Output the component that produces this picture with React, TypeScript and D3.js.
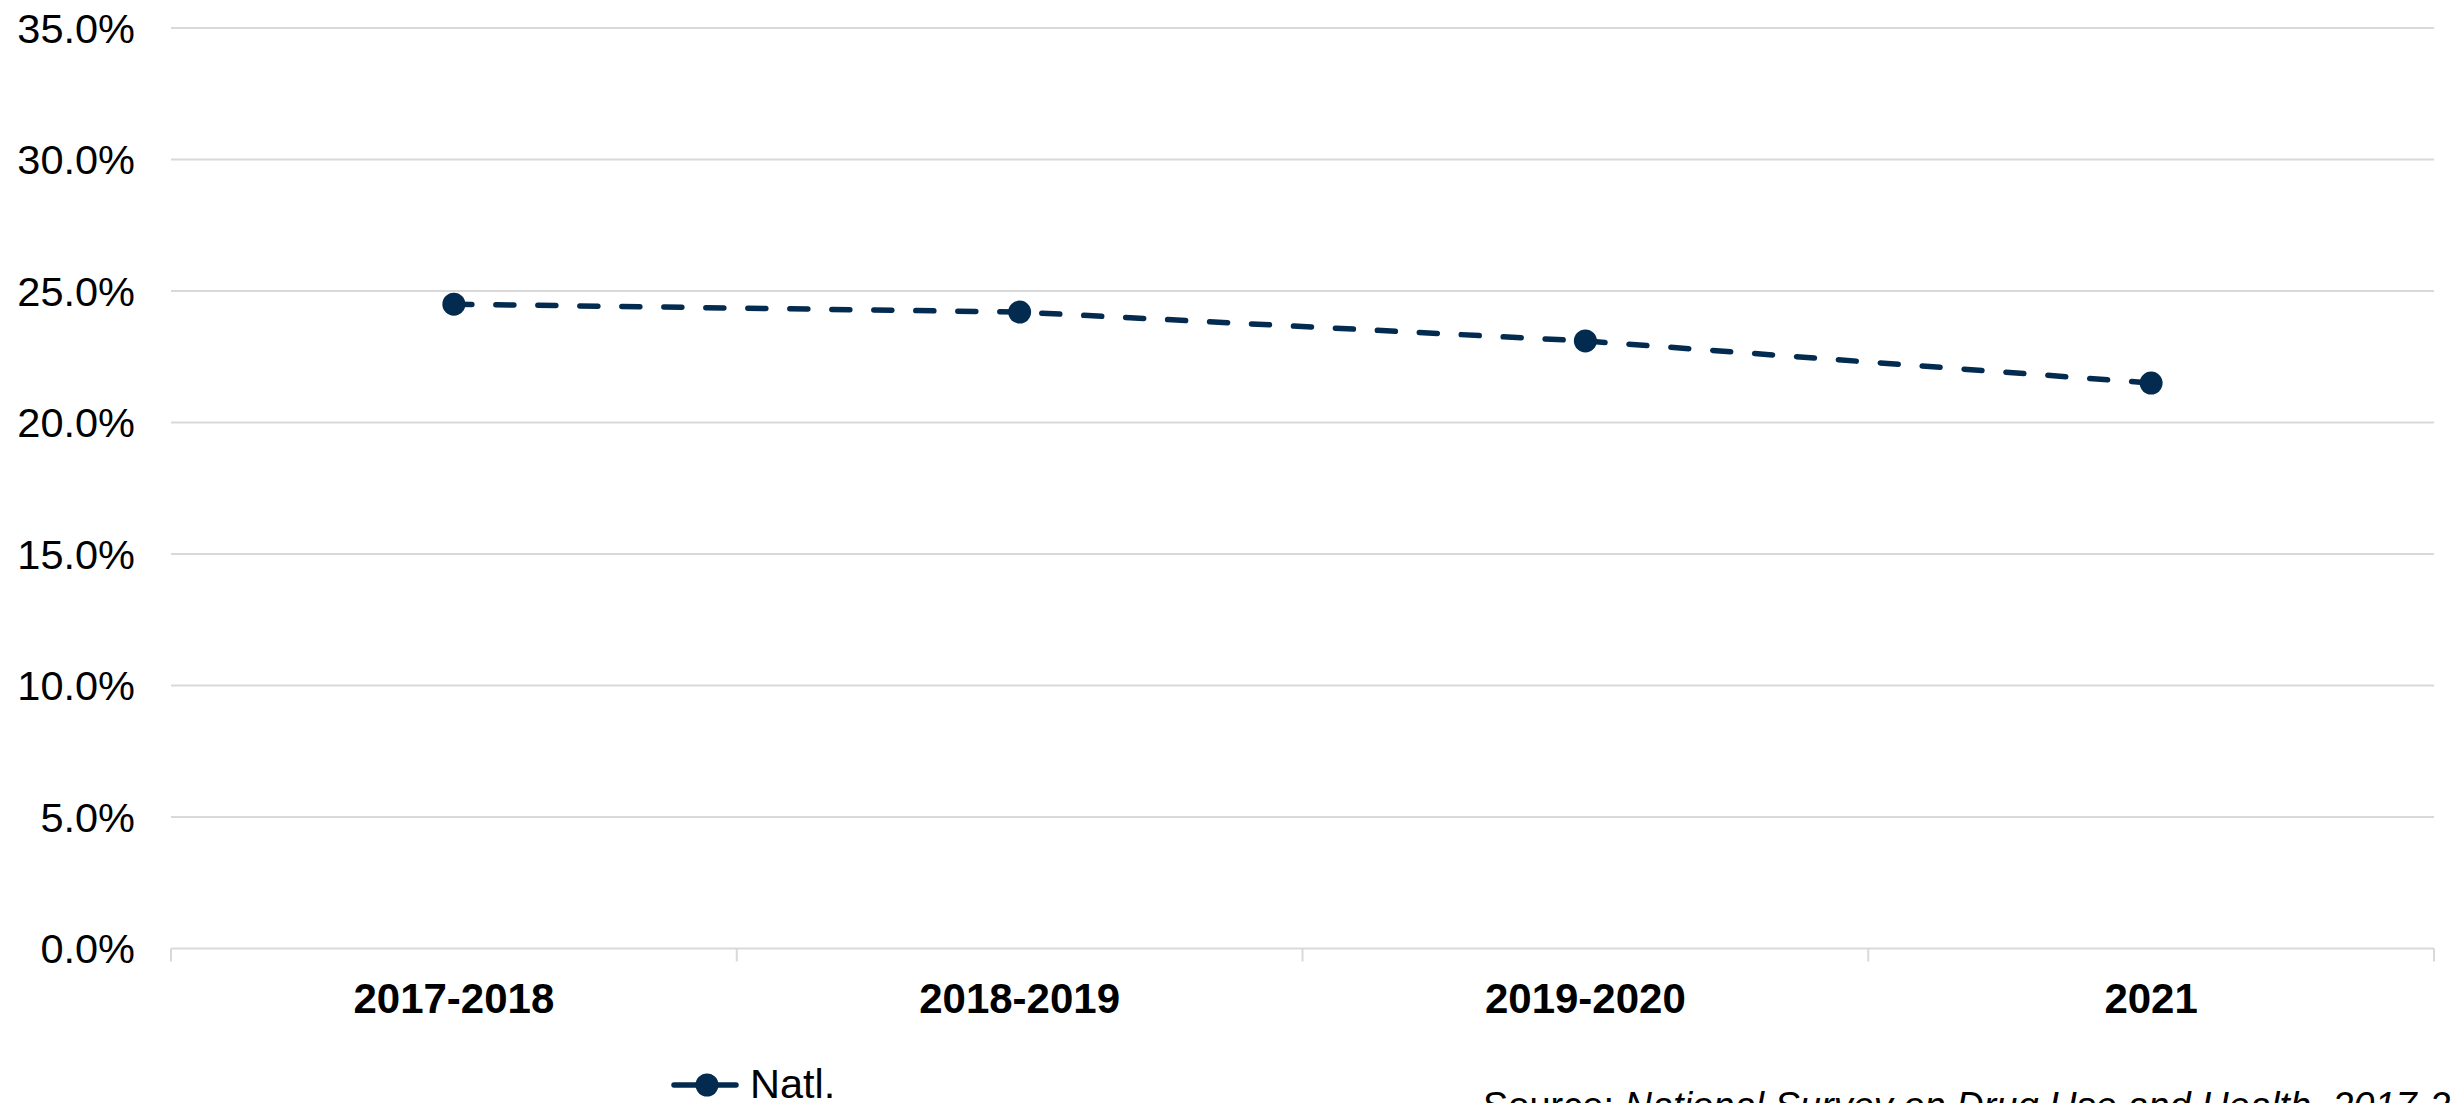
import React from "react";
import * as d3 from "d3";

const categories = ["2017-2018", "2018-2019", "2019-2020", "2021"];
const natlValues = [24.5, 24.2, 23.1, 21.5];
const yTicks = [0, 5, 10, 15, 20, 25, 30, 35];
const seriesName = "Natl.";
const sourceText = ["Source: ", "National Survey on Drug Use and Health, 2017-2021"];

const W = 2453;
const H = 1103;
const FONT = "'Liberation Sans', Arial, sans-serif";
const COLOR = "#032a4f";

export default function App() {
  const left = 171;
  const right = 2434;
  const top = 28;
  const bottom = 948.5;

  const x = d3.scaleBand<string>().domain(categories).range([left, right]).padding(0);
  const y = d3.scaleLinear().domain([0, 35]).range([bottom, top]);

  const line = d3
    .line<number>()
    .x((_, i) => (x(categories[i]) as number) + x.bandwidth() / 2)
    .y((d) => y(d));

  const tickXs = [...categories.map((c) => x(c) as number), right];

  return (
    <svg
      width={W}
      height={H}
      style={{ position: "fixed", left: 0, top: 0, background: "#fff", display: "block" }}
      fontFamily={FONT}
    >
      <rect x={0} y={0} width={W} height={H} fill="#fff" />
      {yTicks.map((t) => (
        <g key={t}>
          <line x1={left} x2={right} y1={y(t)} y2={y(t)} stroke="#d9d9d9" strokeWidth={2} />
          <text x={135} y={y(t)} dy="0.35em" textAnchor="end" fontSize={41.5} fill="#000">
            {t.toFixed(1) + "%"}
          </text>
        </g>
      ))}
      {tickXs.map((tx, i) => (
        <line key={i} x1={tx} x2={tx} y1={bottom} y2={bottom + 13} stroke="#d9d9d9" strokeWidth={2} />
      ))}
      {categories.map((c) => (
        <text
          key={c}
          x={(x(c) as number) + x.bandwidth() / 2}
          y={1013}
          textAnchor="middle"
          fontSize={42}
          fontWeight="bold"
          fill="#000"
        >
          {c}
        </text>
      ))}
      <path
        d={line(natlValues) || ""}
        fill="none"
        stroke={COLOR}
        strokeWidth={5.5}
        strokeDasharray="18,24"
        strokeLinecap="round"
      />
      {natlValues.map((v, i) => (
        <circle
          key={i}
          cx={(x(categories[i]) as number) + x.bandwidth() / 2}
          cy={y(v)}
          r={11.5}
          fill={COLOR}
        />
      ))}
      <g>
        <line x1={674} x2={736} y1={1085} y2={1085} stroke={COLOR} strokeWidth={5.5} strokeLinecap="round" />
        <circle cx={707} cy={1085} r={11.5} fill={COLOR} />
        <text x={750} y={1098} fontSize={41.5} fill="#000">
          {seriesName}
        </text>
      </g>
      <text x={1483} y={1119} fontSize={38} fill="#000">
        <tspan>{sourceText[0]}</tspan>
        <tspan fontStyle="italic">{sourceText[1]}</tspan>
      </text>
    </svg>
  );
}
